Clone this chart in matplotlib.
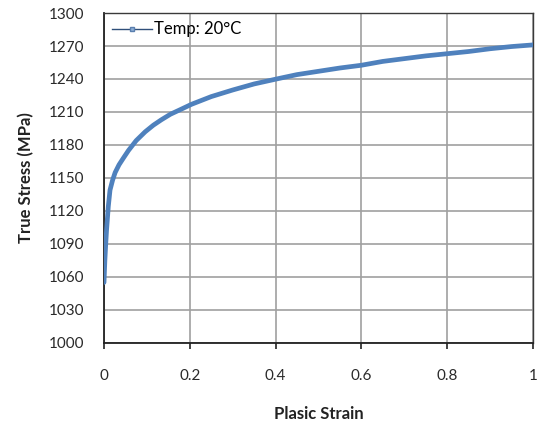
import matplotlib
matplotlib.use('Agg')
import matplotlib.pyplot as plt
from matplotlib.lines import Line2D

# data
strain = [0, 0.002, 0.004, 0.006, 0.01, 0.014, 0.02, 0.026, 0.035, 0.045,
          0.057, 0.075, 0.096, 0.115, 0.134, 0.155, 0.177, 0.204, 0.25, 0.3,
          0.35, 0.402, 0.45, 0.5, 0.55, 0.6, 0.65, 0.7, 0.75, 0.8,
          0.85, 0.9, 0.95, 1.0]
stress = [1055, 1075, 1090, 1103, 1124, 1139, 1148, 1155, 1162, 1168,
          1175, 1184, 1192, 1198, 1203, 1208, 1212, 1217, 1224, 1230,
          1235.5, 1240, 1244, 1247, 1250, 1252.5, 1256, 1258.5, 1261, 1263,
          1265, 1267.5, 1269.5, 1271]
x_ticks = [0, 0.2, 0.4, 0.6, 0.8, 1]
x_tick_labels = ['0', '0.2', '0.4', '0.6', '0.8', '1']
y_ticks = list(range(1000, 1301, 30))
series_label = 'Temp: 20°C'

plt.rcParams['font.family'] = ['Lato', 'DejaVu Sans']

fig = plt.figure(figsize=(5.4, 4.25), dpi=100)
ax = fig.add_axes([0.1926, 0.193, 0.7944, 0.7764])

ax.plot(strain, stress, color='#4f81bd', lw=3.4, solid_capstyle='round', zorder=3)

ax.set_xlim(0, 1)
ax.set_ylim(1000, 1300)
ax.set_xticks(x_ticks)
ax.set_xticklabels(x_tick_labels)
ax.set_yticks(y_ticks)

# grid
ax.grid(True, color='#a0a0a0', lw=1.2)
ax.set_axisbelow(True)

for side in ['top', 'right']:
    ax.spines[side].set_color('#3a3a3a')
    ax.spines[side].set_linewidth(1.0)
for side in ['left', 'bottom']:
    ax.spines[side].set_color('#222222')
    ax.spines[side].set_linewidth(1.3)

ax.tick_params(axis='x', direction='out', length=4, width=1.2, color='#222222',
               pad=15, labelsize=11, labelcolor='#2a2a2a')
ax.tick_params(axis='y', length=0, pad=14, labelsize=11, labelcolor='#2a2a2a')

ax.set_xlabel('Plasic Strain', fontsize=12, fontweight='bold', labelpad=16, color='#222222')
ax.set_ylabel('True Stress (MPa)', fontsize=12, fontweight='bold', labelpad=11, color='#222222')

# legend with thin dark line and a small marker
handle = Line2D([], [], color='#2f4f7a', lw=1, marker='s', ms=2.5,
                mfc='#8fb0d8', mec='#5a7fae')
ax.legend([handle], [series_label], loc='upper left', frameon=False,
          fontsize=12, handlelength=2.4, handletextpad=0.1,
          borderaxespad=0.2, borderpad=0.3)

fig.savefig('out.png', dpi=100)
